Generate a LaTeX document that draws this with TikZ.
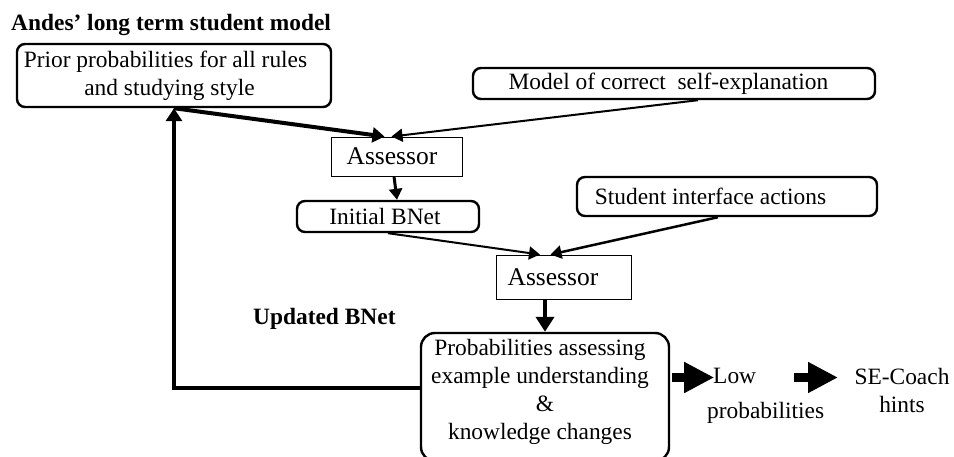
\documentclass[tikz,border=0pt]{standalone}
\usepackage{fontspec}
\setmainfont{Liberation Serif}
\usetikzlibrary{arrows.meta,calc,fit}
\begin{document}
\begin{tikzpicture}[x=1pt,y=-1pt,
  every node/.style={font=\fontsize{23.4}{28}\selectfont, inner sep=0pt},
  rbox/.style={draw, line width=2.4pt, rounded corners=8pt, align=center},
  abox/.style={draw, line width=0.9pt, font=\fontsize{25.5}{30}\selectfont},
  boldtxt/.style={font=\bfseries\fontsize{23.4}{28}\selectfont},
  thinarr/.style={line width=2pt, -{Triangle[width=13pt,length=11pt]}},
  midarr/.style={line width=3pt, -{Triangle[width=13pt,length=11pt]}},
  thickarr/.style={line width=4pt, -{Triangle[width=15pt,length=12pt]}},
  bigarr/.style={line width=4pt, -{Triangle[width=18pt,length=15pt]}},
  blockarr/.style={line width=9pt, -{Triangle[width=29pt,length=30pt]}}
]
\useasboundingbox (0,0) rectangle (954,457);
\fill[white] (0,0) rectangle (954,457);
\clip (0,0) rectangle (954,457);

\node[boldtxt, anchor=base west] (title) at (11,31) {Andes’ long term student model};
\node[rbox, minimum width=314pt, minimum height=63pt] (prior) at (174,75.5)
  {\rule{0pt}{3pt}Prior probabilities for all rules\hspace*{17pt}\\and studying style\hspace*{9pt}};
\node[rbox, minimum width=402pt, minimum height=31pt] (model) at (674,83.5)
  {Model of correct\ \ self-explanation\hspace*{11pt}};
\node[abox, minimum width=131pt, minimum height=39pt] (assess1) at (396.5,156.5) {Assessor\hspace*{9pt}};
\node[rbox, minimum width=182pt, minimum height=31pt] (initial) at (388,216.5) {Initial BNet\hspace*{6pt}};
\node[rbox, minimum width=300pt, minimum height=39pt] (student) at (727,196.5)
  {Student interface actions\hspace*{33pt}};
\node[abox, minimum width=135pt, minimum height=44pt] (assess2) at (563.5,277) {Assessor\hspace*{21pt}};
\node[boldtxt, anchor=base west] (updated) at (253,325) {Updated BNet};
\node[align=center] (probtext) at (540,392)
  {Probabilities assessing\\example understanding\\\hspace*{10pt}\&\\knowledge changes};
\node[rbox, rounded corners=14pt, fit={(421,333) (669,461)}] (prob) {};
\node[align=left, anchor=west] (low) at (707,395.5) {\hspace*{6pt}Low\\[7pt]probabilities};
\node[align=center] (secoach) at (902,390) {SE-Coach\\hints};

\draw[thickarr] (prior.south) -- ($(assess1.north)+(-12,0)$);
\draw[thinarr] ($(model.south)+(24,0)$) -- ($(assess1.north)+(-5,0)$);
\draw[midarr] ($(assess1.south)+(-2.5,0)$) -- ($(initial.north)+(9,0)$);
\draw[thinarr] (initial.south) -- ($(assess2.north)+(-23.5,0)$);
\draw[thinarr, line width=2.5pt] ($(student.south)+(-9,0)$) -- ($(assess2.north)+(-13,0)$);
\draw[bigarr] (prob.north |- assess2.south) -- (prob.north);
\draw[thickarr, -{Triangle[width=16pt,length=13pt]}] ($(prob.west)+(0,-9)$) -| (prior.south);
\draw[blockarr] ($(prob.east)+(2,-19.5)$) -- ++(42,0);
\draw[blockarr] ($(low.west)+(87,-18)$) -- ++(44,0);
\end{tikzpicture}
\end{document}
